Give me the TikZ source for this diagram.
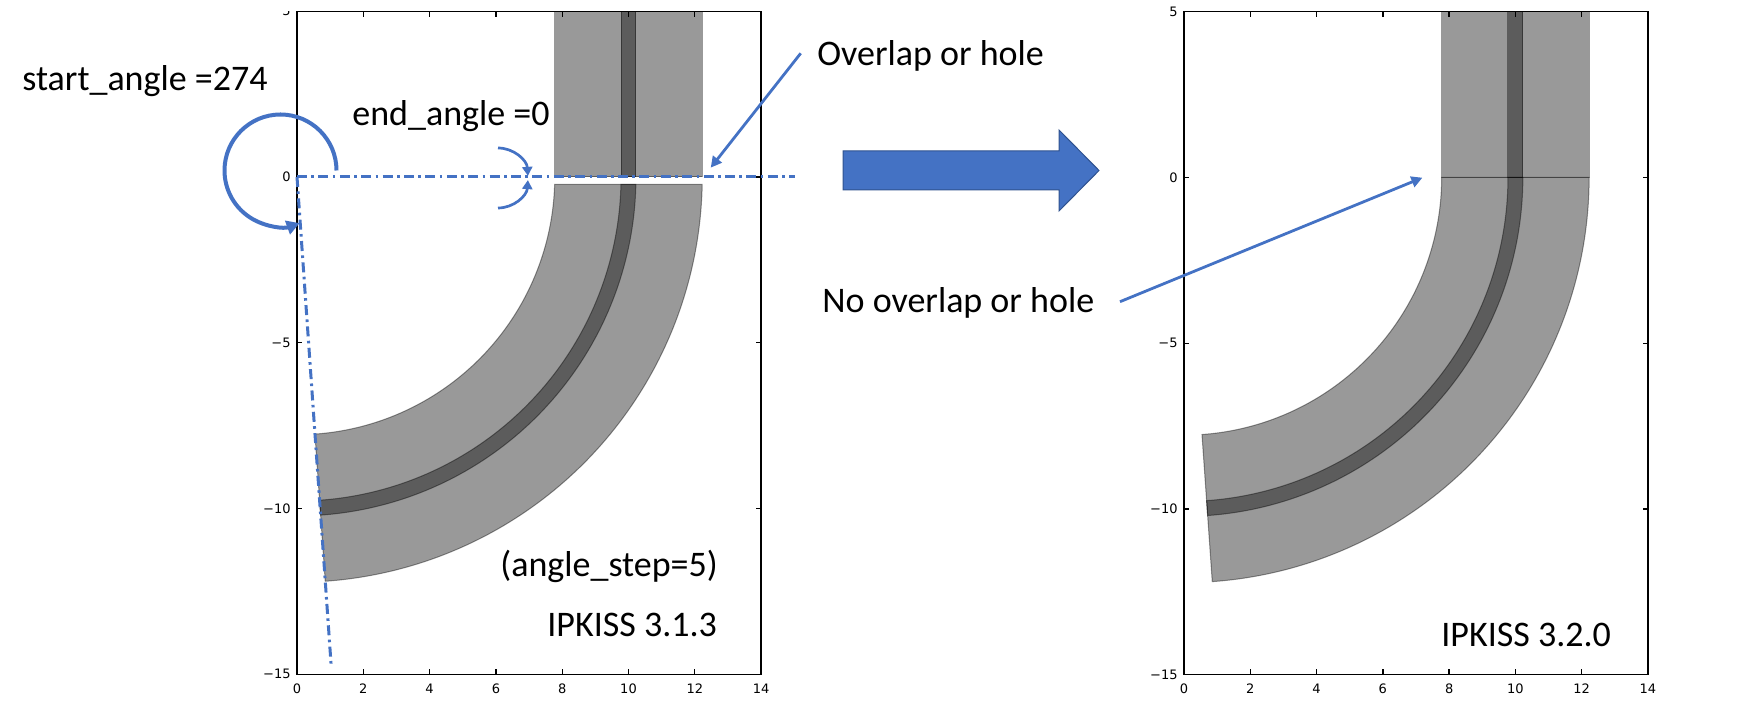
\documentclass[tikz,border=0pt]{standalone}
\usepackage{fontspec}
\setmainfont{Carlito}
\newfontfamily\tickfont{DejaVu Sans}
\usetikzlibrary{arrows.meta}
\definecolor{ppblue}{HTML}{4472C4}
\definecolor{ppdark}{HTML}{2F528F}
\newcommand\myaxes{%
  \draw[axisline] (0,-15) rectangle (14,5);
  \foreach \u in {0,2,...,14} {
    \draw[axisline] (\u,-15) -- ++(0,0.16);
    \draw[axisline] (\u,5) -- ++(0,-0.16);
  }
  \foreach \v in {-15,-10,-5,0,5} {
    \draw[axisline] (0,\v) -- ++(0.16,0);
    \draw[axisline] (14,\v) -- ++(-0.16,0);
  }
}
\begin{document}
\begin{tikzpicture}[x=0.5pt,y=0.5pt,
  wg/.style={fill=black, fill opacity=0.4, draw=black, draw opacity=0.4, line width=0.5pt},
  axisline/.style={line width=0.65pt, black},
  ticklab/.style={font=\tickfont\fontsize{6.5}{7}\selectfont, inner sep=0pt, text=black},
  lbl/.style={font=\fontsize{18}{21.6}\selectfont, inner sep=0pt, anchor=base west},
  dashdot/.style={ppblue, line width=1.5pt, dash pattern=on 5pt off 2.2pt on 1.3pt off 2.2pt},
  callout/.style={ppblue, line width=1.4pt, -{Triangle[length=5.5pt,width=5.5pt]}},
  bigarrow/.style={fill=ppblue, draw=ppdark, line width=0.5pt},
]
\useasboundingbox (0,0) rectangle (1740,722);

% ---------------- left plot (IPKISS 3.1.3) ----------------
\begin{scope}[shift={(297,545)}, x=16.575pt, y=16.575pt]
  \path[wg] (7.775,0) rectangle (12.225,5);
  \path[wg] (9.775,0) rectangle (10.225,5);
  \path[wg] plot[domain=274:358.97, samples=90] ({12.225*cos(\x)},{12.225*sin(\x)})
     -- plot[domain=358.38:274, samples=90] ({7.775*cos(\x)},{7.775*sin(\x)}) -- cycle;
  \path[wg] plot[domain=274:358.77, samples=90] ({10.225*cos(\x)},{10.225*sin(\x)})
     -- plot[domain=358.71:274, samples=90] ({9.775*cos(\x)},{9.775*sin(\x)}) -- cycle;
  \myaxes
  \foreach \u in {0,2,...,14}
    \node[ticklab, anchor=north] (lxl\u) at (\u,-15.28) {\u};
  \foreach \v/\t in {-15/−15,-10/−10,-5/−5,0/0}
    \node[ticklab, anchor=east] (lyl\v) at (-0.18,\v) {\t};
  \begin{scope}
    \clip (-3,0) rectangle (0,5.0);
    \node[ticklab, anchor=east] (lyl5) at (-0.18,5) {5};
  \end{scope}
  \coordinate (LO) at (0,0);
  \coordinate (LH) at (15.02,0);
  \coordinate (LV) at (274:14.73);
\end{scope}

% ---------------- right plot (IPKISS 3.2.0) ----------------
\begin{scope}[shift={(1184,544.5)}, x=16.57pt, y=16.57pt]
  \path[wg] (7.775,0) rectangle (12.225,5);
  \path[wg] (9.775,0) rectangle (10.225,5);
  \path[wg] plot[domain=274:360, samples=90] ({12.225*cos(\x)},{12.225*sin(\x)})
     -- plot[domain=360:274, samples=90] ({7.775*cos(\x)},{7.775*sin(\x)}) -- cycle;
  \path[wg] plot[domain=274:360, samples=90] ({10.225*cos(\x)},{10.225*sin(\x)})
     -- plot[domain=360:274, samples=90] ({9.775*cos(\x)},{9.775*sin(\x)}) -- cycle;
  \myaxes
  \foreach \u in {0,2,...,14}
    \node[ticklab, anchor=north] (rxl\u) at (\u,-15.28) {\u};
  \foreach \v/\t in {-15/−15,-10/−10,-5/−5,0/0,5/5}
    \node[ticklab, anchor=east] (ryl\v) at (-0.18,\v) {\t};
\end{scope}

% ---------------- annotations ----------------
\draw[dashdot] (LO) -- (LH);
\draw[dashdot] (LO) -- (LV);

\coordinate (circS) at (336.5,551.5);
\draw[ppblue, line width=2pt, -{Triangle[length=6.5pt,width=7pt]}]
  (circS) arc[start angle=0, end angle=290, radius=28pt];

\coordinate (eaU) at (498,574);
\coordinate (eaD) at (498,514);
\draw[ppblue, line width=1.35pt, -{Triangle[length=4.5pt,width=5pt]}]
  (eaU) arc[start angle=90, end angle=4, radius=15pt];
\draw[ppblue, line width=1.35pt, -{Triangle[length=4.5pt,width=5pt]}]
  (eaD) arc[start angle=270, end angle=356, radius=15pt];

\node[lbl] (tStart) at (22,631) {start\_angle =274};
\node[lbl] (tEnd) at (352,596) {end\_angle =0};
\node[lbl] (tOver) at (817,656) {Overlap or hole};
\node[lbl] (tNo) at (822,409) {No overlap or hole};
\node[lbl] (tStep) at (500,145) {(angle\_step=5)};
\node[lbl] (tV1) at (547,85) {IPKISS 3.1.3};
\node[lbl] (tV2) at (1441,75) {IPKISS 3.2.0};

\coordinate (ovS) at (800.7,668.7);
\coordinate (ovT) at (710.7,554.3);
\draw[callout] (ovS) -- (ovT);

\coordinate (noS) at (1120,420.3);
\coordinate (noT) at (1422.4,544.3);
\draw[callout] (noS) -- (noT);

\draw[bigarrow] (843,571) -- (1059,571) -- (1059,592) -- (1099,551.5)
  -- (1059,511) -- (1059,532) -- (843,532) -- cycle;
\end{tikzpicture}
\end{document}
